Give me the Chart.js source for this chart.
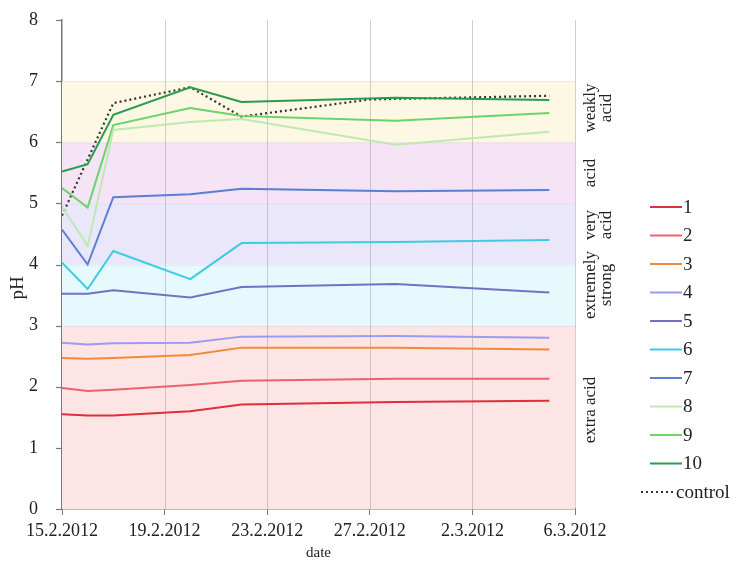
<!DOCTYPE html>
<html>
<head>
<meta charset="utf-8">
<script src="https://cdn.jsdelivr.net/npm/chart.js@4/dist/chart.umd.min.js"></script>
<style>
html,body{margin:0;padding:0;background:#fff;}
#wrap{width:739px;height:562px;position:relative;}
</style>
</head>
<body>
<div id="wrap"><canvas id="c" width="739" height="562"></canvas></div>
<script>
// ---- data ----
const xTickLabels = ['15.2.2012','19.2.2012','23.2.2012','27.2.2012','2.3.2012','6.3.2012'];
const days = [0,1,2,5,7,13,19];
const controlDays = [0,1,2,5,7,12,19];
const seriesNames = ['1','2','3','4','5','6','7','8','9','10'];
const s1 = [1.55,1.53,1.53,1.60,1.71,1.75,1.77];
const s2 = [1.98,1.93,1.95,2.03,2.10,2.13,2.13];
const s3 = [2.47,2.46,2.47,2.52,2.64,2.64,2.61];
const s4 = [2.72,2.69,2.71,2.72,2.82,2.83,2.80];
const s5 = [3.52,3.52,3.58,3.46,3.63,3.68,3.54];
const s6 = [4.03,3.60,4.22,3.76,4.35,4.37,4.40];
const s7 = [4.57,4.00,5.10,5.15,5.24,5.20,5.22];
const s8 = [4.95,4.30,6.20,6.33,6.38,5.96,6.17];
const s9 = [5.25,4.93,6.28,6.56,6.43,6.35,6.48];
const s10 = [5.52,5.64,6.45,6.90,6.66,6.73,6.69];
const controlValues = [4.80,5.72,6.64,6.90,6.42,6.70,6.76];
const bandLimits = [[0,3],[3,4],[4,5],[5,6],[6,7]];
const bandLabels = [['extra acid'],['extremely','strong'],['very','acid'],['acid'],['weakly','acid']];

// ---- styles ----
const seriesColors = ['#df2f3a','#e8636b','#f08a3a','#9a9cf0','#7470c6','#3fcbe2','#5b7fd2','#bfe8b2','#6ad46a','#2a9a4c'];
const bandColors = ['#fde5e5','#e6f9fd','#eae7fb','#f4e4f5','#fdf8e4'];
const bandLabelY = [410, 285, 225, 173, 108];

const allSeries = [s1,s2,s3,s4,s5,s6,s7,s8,s9,s10];
const datasets = allSeries.map((vals,i)=>({
  label: seriesNames[i],
  data: vals.map((v,j)=>({x:days[j], y:v})),
  borderColor: seriesColors[i],
  backgroundColor: seriesColors[i],
  borderWidth: 2,
  pointRadius: 0,
  tension: 0,
  fill: false
}));
datasets.push({
  label: 'control',
  data: controlValues.map((v,j)=>({x:controlDays[j], y:v})),
  borderColor: '#333333',
  backgroundColor: '#333333',
  borderWidth: 2.2,
  borderDash: [2,3],
  pointRadius: 0,
  tension: 0,
  fill: false
});

const serif = '"Liberation Serif", "DejaVu Serif", serif';

const bandsPlugin = {
  id: 'bands',
  beforeDatasetsDraw(chart){
    const {ctx, chartArea:a, scales:{y}} = chart;
    ctx.save();
    bandLimits.forEach((b,i)=>{
      const yt = y.getPixelForValue(b[1]);
      const yb = y.getPixelForValue(b[0]);
      ctx.fillStyle = bandColors[i];
      ctx.fillRect(a.left, yt, a.right-a.left, yb-yt);
      ctx.strokeStyle = 'rgba(0,0,0,0.07)';
      ctx.lineWidth = 1;
      ctx.beginPath();
      ctx.moveTo(a.left, yt+0.5); ctx.lineTo(a.right, yt+0.5);
      ctx.stroke();
    });
    const x = chart.scales.x;
    ctx.strokeStyle = 'rgba(120,120,130,0.35)';
    ctx.lineWidth = 1;
    x.ticks.forEach(t=>{
      if (t.value === 0) return;
      const px = Math.round(x.getPixelForValue(t.value))+0.5;
      ctx.beginPath(); ctx.moveTo(px, a.top); ctx.lineTo(px, a.bottom); ctx.stroke();
    });
    ctx.restore();
  },
  afterDraw(chart){
    const {ctx, chartArea:a, scales:{y}} = chart;
    ctx.save();
    // y tick marks
    ctx.strokeStyle = '#777';
    ctx.lineWidth = 1.2;
    y.ticks.forEach(t=>{
      const py = Math.round(y.getPixelForValue(t.value))+0.5;
      ctx.beginPath(); ctx.moveTo(a.left-6, py); ctx.lineTo(a.left, py); ctx.stroke();
    });
    // band labels
    ctx.fillStyle = '#222';
    ctx.font = '17px ' + serif;
    ctx.textAlign = 'center';
    ctx.textBaseline = 'middle';
    bandLabels.forEach((lines,i)=>{
      ctx.save();
      ctx.translate(a.right + 16, bandLabelY[i]);
      ctx.rotate(-Math.PI/2);
      lines.forEach((ln,k)=>{ ctx.fillText(ln, 0, k*16); });
      ctx.restore();
    });
    // legend
    ctx.font = '19px ' + serif;
    ctx.textAlign = 'left';
    ctx.textBaseline = 'middle';
    chart.data.datasets.forEach((ds,i)=>{
      const yy = 207 + i*28.5;
      ctx.strokeStyle = ds.borderColor;
      ctx.lineWidth = 2;
      ctx.setLineDash(ds.borderDash || []);
      ctx.beginPath();
      if (ds.label === 'control') { ctx.moveTo(641, yy); ctx.lineTo(675, yy); }
      else { ctx.moveTo(650, yy); ctx.lineTo(682, yy); }
      ctx.stroke();
      ctx.setLineDash([]);
      ctx.fillStyle = '#222';
      ctx.fillText(ds.label, ds.label === 'control' ? 676 : 683, yy + 1);
    });
    ctx.restore();
  }
};

new Chart(document.getElementById('c'), {
  type: 'line',
  data: { datasets },
  options: {
    responsive: false,
    animation: false,
    layout: { padding: { left: 0, right: 164, top: 20, bottom: 0 } },
    plugins: { legend: { display: false }, tooltip: { enabled: false } },
    scales: {
      x: {
        type: 'linear',
        min: 0, max: 20,
        ticks: {
          stepSize: 4,
          autoSkip: false,
          maxRotation: 0,
          padding: 5,
          color: '#222',
          font: { family: serif, size: 18 },
          callback: (v)=> xTickLabels[Math.round(v/4)]
        },
        grid: { drawOnChartArea: false, drawTicks: true, tickLength: 6, color: '#777' },
        border: { color: '#777', width: 1.5 },
        title: { display: true, text: 'date', color: '#222', font: { family: serif, size: 15 }, padding: { top: 0, bottom: 0 } },
        afterFit(s){ s.height = 53; }
      },
      y: {
        min: 0, max: 8,
        ticks: { stepSize: 1, padding: 2, color: '#222', font: { family: serif, size: 18 } },
        grid: { drawOnChartArea: false, drawTicks: true, tickLength: 22, tickColor: 'rgba(0,0,0,0)' },
        border: { color: '#777', width: 1.5 },
        title: { display: false },
        afterFit(s){ s.width = 62; }
      }
    }
  },
  plugins: [bandsPlugin, {
    id: 'ytitle',
    afterDraw(chart){
      const ctx = chart.ctx;
      ctx.save();
      ctx.translate(18, 288);
      ctx.rotate(-Math.PI/2);
      ctx.font = '19px ' + serif;
      ctx.fillStyle = '#222';
      ctx.textAlign = 'center';
      ctx.textBaseline = 'middle';
      ctx.fillText('pH', 0, 0);
      ctx.restore();
    }
  }]
});
</script>
</body>
</html>
